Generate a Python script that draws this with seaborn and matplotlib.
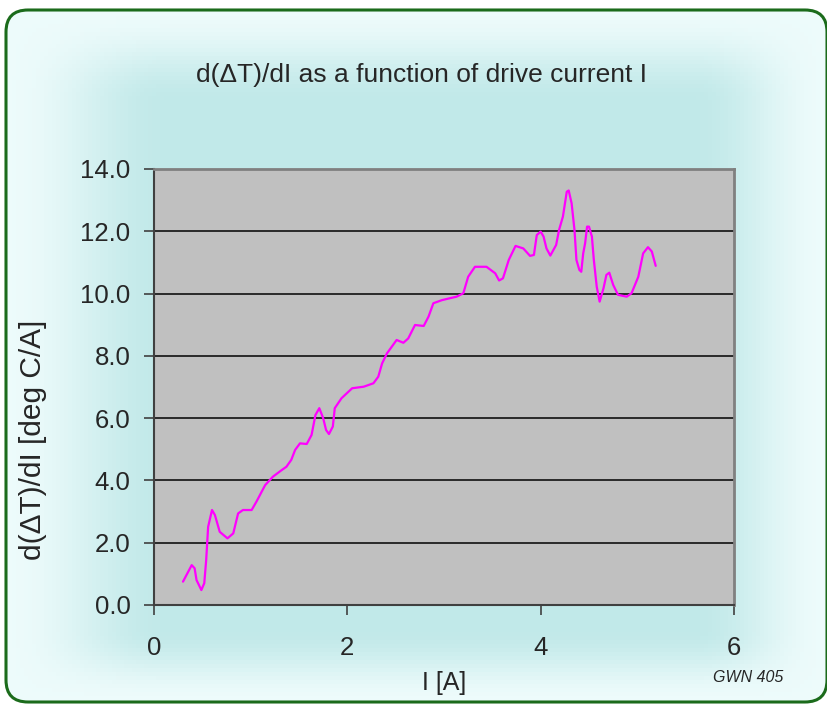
import numpy as np
import pandas as pd
import seaborn as sns
import matplotlib.pyplot as plt
from matplotlib.patches import FancyBboxPatch

# drive current I [A]
current = [0.30, 0.39, 0.42, 0.44, 0.49, 0.52, 0.54, 0.56, 0.60, 0.63, 0.68, 0.76, 0.82,
           0.87, 0.92, 1.01, 1.06, 1.15, 1.23, 1.32, 1.37, 1.42, 1.46, 1.51, 1.58, 1.63,
           1.67, 1.71, 1.75, 1.78, 1.81, 1.85, 1.87, 1.94, 2.05, 2.17, 2.27, 2.32, 2.36,
           2.41, 2.51, 2.58, 2.63, 2.70, 2.79, 2.84, 2.89, 2.98, 3.06, 3.13, 3.20, 3.25,
           3.32, 3.44, 3.53, 3.57, 3.61, 3.67, 3.74, 3.82, 3.89, 3.93, 3.96, 4.00, 4.03,
           4.06, 4.10, 4.16, 4.19, 4.23, 4.27, 4.29, 4.32, 4.35, 4.37, 4.40, 4.42, 4.44,
           4.46, 4.48, 4.50, 4.53, 4.55, 4.58, 4.61, 4.65, 4.68, 4.71, 4.75, 4.80, 4.89,
           4.94, 5.01, 5.06, 5.11, 5.15, 5.19]
# d(dT)/dI [deg C/A]
slope = [0.75, 1.28, 1.18, 0.80, 0.48, 0.70, 1.45, 2.51, 3.05, 2.89, 2.35, 2.14, 2.30,
         2.94, 3.05, 3.05, 3.32, 3.85, 4.12, 4.33, 4.44, 4.66, 4.98, 5.19, 5.17, 5.46,
         6.10, 6.32, 6.00, 5.62, 5.49, 5.73, 6.32, 6.64, 6.96, 7.01, 7.12, 7.33, 7.76,
         8.08, 8.51, 8.42, 8.56, 8.99, 8.96, 9.26, 9.69, 9.79, 9.85, 9.90, 10.01, 10.54,
         10.86, 10.86, 10.65, 10.42, 10.49, 11.08, 11.53, 11.45, 11.21, 11.24, 11.88, 11.99, 11.83,
         11.45, 11.22, 11.56, 12.04, 12.47, 13.27, 13.31, 12.90, 12.04, 11.08, 10.76, 10.70, 11.29,
         11.62, 12.15, 12.15, 11.83, 11.08, 10.22, 9.74, 10.17, 10.60, 10.67, 10.28, 9.96, 9.90,
         10.01, 10.54, 11.29, 11.49, 11.35, 10.89]
y_ticks = [0, 2, 4, 6, 8, 10, 12, 14]
x_ticks = [0, 2, 4, 6]

df = pd.DataFrame({'I': current, 'dTdI': slope})

sns.set_style('white')
plt.rcParams['font.family'] = ['Liberation Sans', 'DejaVu Sans']

W, H = 828, 704
fig = plt.figure(figsize=(W / 100, H / 100), dpi=100, facecolor='white')

# background panel: cyan glow inside a green rounded frame (pixel coords)
bg = fig.add_axes([0, 0, 1, 1], zorder=-5)
bg.set_xlim(0, W)
bg.set_ylim(H, 0)
bg.axis('off')
yy, xx = np.mgrid[0:H:176j, 0:W:207j]


def ramp(v, w):
    v = np.clip(v / w, 0, 1)
    return v * v * (3 - 2 * v)


t = ramp(xx - 6, 160) * ramp(827 - xx, 130) * ramp(yy - 10, 90) * ramp(702 - yy, 70)
edge = np.array([0.93, 0.985, 0.985])
mid = np.array([0.76, 0.915, 0.915])
img = edge + (mid - edge) * t[..., None]
im = bg.imshow(img, extent=[0, W, H, 0], aspect='auto', zorder=0)
frame = FancyBboxPatch((6, 10), 821, 692, boxstyle='round,pad=0,rounding_size=22',
                       fill=False, ec='#1b6b1b', lw=2.2, zorder=2)
bg.add_patch(frame)
im.set_clip_path(frame)

ax = fig.add_axes([154 / W, 1 - 605 / H, 580 / W, 436 / H])
ax.set_facecolor('#c0c0c0')
sns.lineplot(data=df, x='I', y='dTdI', ax=ax, color='#ff00ff', lw=1.6)

ax.set_xlim(0, 6)
ax.set_ylim(0, 14)
ax.set_xticks(x_ticks)
ax.set_yticks(y_ticks)
ax.set_yticklabels([f'{v:.1f}' for v in y_ticks])
ax.yaxis.grid(True, color='#101010', lw=1.2)
ax.set_axisbelow(True)
ax.tick_params(axis='both', labelsize=18.5, direction='out', length=7, width=1.2,
               color='#404040', left=True, bottom=True)
ax.tick_params(axis='x', pad=15)
ax.tick_params(axis='y', pad=10)
for side in ['top', 'right']:
    ax.spines[side].set_color('#808080')
    ax.spines[side].set_linewidth(2)
for side in ['left', 'bottom']:
    ax.spines[side].set_color('#404040')
    ax.spines[side].set_linewidth(1.5)

ax.set_xlabel('I [A]', fontsize=18, labelpad=8)
ax.set_ylabel('')
fig.text(33 / W, 1 - 440 / H, 'd(\u0394T)/dI [deg C/A]', rotation=90, ha='center', va='center',
         fontsize=21.5)
fig.text(422 / W, 1 - 75 / H, 'd(\u0394T)/dI as a function of drive current I', ha='center',
         va='center', fontsize=19)
fig.text(748 / W, 1 - 678 / H, 'GWN 405', ha='center', va='center', fontsize=11.5,
         style='italic')

fig.savefig('out.png', dpi=100, facecolor='white')
